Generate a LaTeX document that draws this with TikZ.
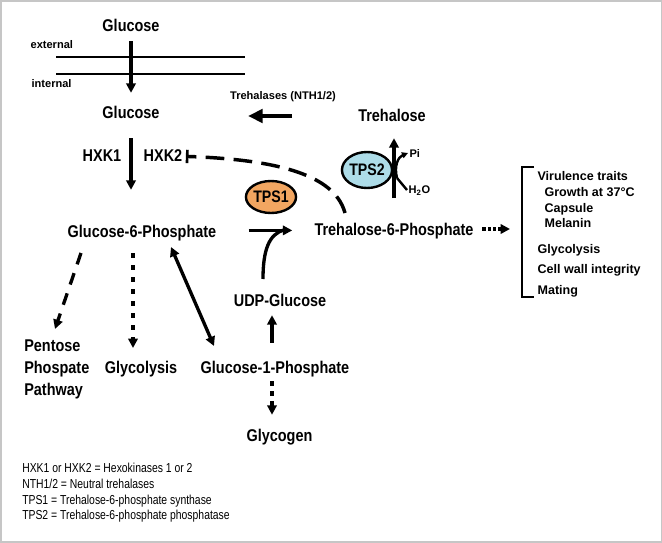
\documentclass[tikz,border=0pt]{standalone}
\usepackage{fontspec}
\setmainfont{Liberation Sans}
\newfontfamily\cnd[FakeStretch=0.85]{Liberation Sans}
\newfontfamily\lgd[FakeStretch=0.8]{Liberation Sans}
\usetikzlibrary{arrows.meta,shapes.geometric}
\definecolor{tpsorange}{RGB}{242,166,97}
\definecolor{tpsblue}{RGB}{173,220,232}
\tikzset{
  bigf/.style={font=\cnd\bfseries\fontsize{12.75}{16.5}\selectfont},
  big/.style={bigf, inner sep=1.5pt, text height=9.5pt, text depth=2.6pt, anchor=base},
  sm/.style={font=\bfseries\fontsize{9.4}{11}\selectfont, inner sep=1pt, anchor=base west},
  tiny/.style={font=\bfseries\fontsize{8.3}{10}\selectfont, inner sep=1pt},
  leg/.style={font=\lgd\fontsize{9.75}{12}\selectfont, inner sep=0pt, anchor=base west},
  arr/.style={line width=2.5pt, -{Triangle[length=7pt,width=7pt]}},
  bigarr/.style={line width=3.2pt, -{Triangle[length=11pt,width=10pt]}},
  dsh/.style={dash pattern=on 9pt off 7pt},
  dot/.style={dash pattern=on 3.75pt off 5.25pt},
  dotb/.style={dash pattern=on 3.75pt off 3.75pt},
  dens/.style={dash pattern=on 2.5pt off 1.5pt},
  enz/.style={ellipse, draw, line width=1.8pt, inner sep=0pt,
    font=\cnd\bfseries\fontsize{12.5}{14}\selectfont},
  memb/.style={line width=1.8pt},
}
\begin{document}
\begin{tikzpicture}[x=0.75pt,y=-0.75pt]
\useasboundingbox (0,0) rectangle (662,543);
\draw[gray!45, line width=1.5pt] (0.5,0.5) rectangle (661.5,542);
% top
\node[big] (gluext) at (131,31) {Glucose};
\node[tiny, anchor=base west] (ext) at (29,48) {external};
\node[tiny, anchor=base west] (int) at (30,87) {internal};
\coordinate (m1a) at (56,57); \coordinate (m1b) at (245,57);
\coordinate (m2a) at (56,74); \coordinate (m2b) at (245,74);
\draw[memb] (m1a) -- (m1b);
\draw[memb] (m2a) -- (m2b);
\node[big] (gluint) at (131,118) {Glucose};
\draw[arr, shorten <=3.4pt, shorten >=7.7pt] (gluext.south) -- (gluint.north);
% trehalose
\node[big] (treh) at (392,121) {Trehalose};
\node[tiny, anchor=base] (nth) at (283,99.5) {Trehalases (NTH1/2)};
\coordinate (nthS) at (292,116);
\coordinate (nthE) at (248,116);
\draw[bigarr] (nthS) -- (nthE);
% hexokinase
\node[big] (hxk1) at (102,161) {HXK1};
\node[big] (hxk2) at (163,161) {HXK2};
\node[big] (g6p) at (142,237) {Glucose-6-Phosphate};
\draw[arr, shorten <=10.9pt, shorten >=24.2pt] (gluint.south) -- (gluint.south |- g6p.north);
\node[big] (t6p) at (394,235) {Trehalose-6-Phosphate};
% inhibition
\coordinate (inhS) at (345,213);
\draw[line width=2.6pt, dash pattern=on 14pt off 7pt, -{Bar[width=10pt,line width=2pt]}]
  (inhS) .. controls (336,180) and (292,160) .. ([xshift=1pt]hxk2.east);
% TPS2
\node[enz, fill=tpsblue, minimum width=36pt, minimum height=27pt] (tps2) at (367,170) {TPS2};
\draw[arr, shorten <=16.5pt, shorten >=8.6pt] (t6p.north) -- (t6p.north |- treh.south);
\node[tiny, anchor=west] (pi) at (408,153) {Pi};
\node[tiny, anchor=west] (h2o) at (407,191) {H\textsubscript{2}O};
\coordinate (br) at (397,178);
\draw[line width=1.8pt] ([yshift=0.75pt]h2o.west) -- (br);
\draw[line width=1.8pt, -{Triangle[length=4.5pt,width=4.5pt]}] (br) .. controls (394,166) and (398,157) .. (pi.west);
% TPS1
\node[enz, fill=tpsorange, minimum width=35pt, minimum height=24pt] (tps1) at (271,197) {TPS1};
\draw[arr, shorten <=22.5pt, shorten >=15pt] (g6p.east |- t6p.west) -- (t6p.west);
\node[big] (udp) at (280,306) {UDP-Glucose};
\coordinate (udpS) at (263,279);
\coordinate (udpE) at (284,230);
\draw[line width=2.5pt] (udpS) .. controls (263,250) and (269,234) .. (udpE);
% lower
\node[bigf, anchor=base west, align=left, inner sep=0pt] (ppp) at (24,395) {Pentose\\Phospate\\Pathway};
\node[big] (glyc) at (141,373) {Glycolysis};
\node[big] (g1p) at (275,373) {Glucose-1-Phosphate};
\node[big] (glyco) at (279.5,441) {Glycogen};
\coordinate (pS) at (81,253); \coordinate (pE) at (55,329);
\draw[arr, dsh] (pS) -- (pE);
\coordinate (gS) at (133,253); \coordinate (gE) at (133,348);
\draw[arr, dot] (gS) -- (gE);
\coordinate (dS) at (171,247); \coordinate (dE) at (214,346);
\draw[line width=2.5pt, {Triangle[length=7pt,width=7pt]}-{Triangle[length=7pt,width=7pt]}] (dS) -- (dE);
\draw[arr, shorten <=11.5pt, shorten >=2.6pt] ([xshift=-2.25pt]g1p.north) -- ([xshift=-2.25pt]g1p.north |- udp.south);
\draw[arr, dotb, shorten <=1.9pt, shorten >=8.5pt] ([xshift=-2.25pt]g1p.south) -- ([xshift=-2.25pt]g1p.south |- glyco.north);
% right outputs
\coordinate (oE) at (510,229);
\draw[arr, dens, shorten <=5pt] (t6p.east |- oE) -- (oE);
\coordinate (b1) at (534,167); \coordinate (b2) at (522,167);
\coordinate (b3) at (522,297); \coordinate (b4) at (534,297);
\draw[line width=1.9pt] (b1) -- (b2) -- (b3) -- (b4);
\node[sm] (vir) at (536,180.5) {Virulence traits};
\node[sm] (gro) at (543,196.5) {Growth at 37°C};
\node[sm] (cap) at (543,212.5) {Capsule};
\node[sm] (mel) at (543,227.5) {Melanin};
\node[sm] (gly2) at (536,253.5) {Glycolysis};
\node[sm] (cwi) at (536,273.5) {Cell wall integrity};
\node[sm] (mat) at (536,294.5) {Mating};
% legend
\node[leg] (l1) at (22,472) {HXK1 or HXK2 = Hexokinases 1 or 2};
\node[leg] (l2) at (22,488) {NTH1/2 = Neutral trehalases};
\node[leg] (l3) at (22,504) {TPS1 = Trehalose-6-phosphate synthase};
\node[leg] (l4) at (22,519.5) {TPS2 = Trehalose-6-phosphate phosphatase};
\end{tikzpicture}
\end{document}
